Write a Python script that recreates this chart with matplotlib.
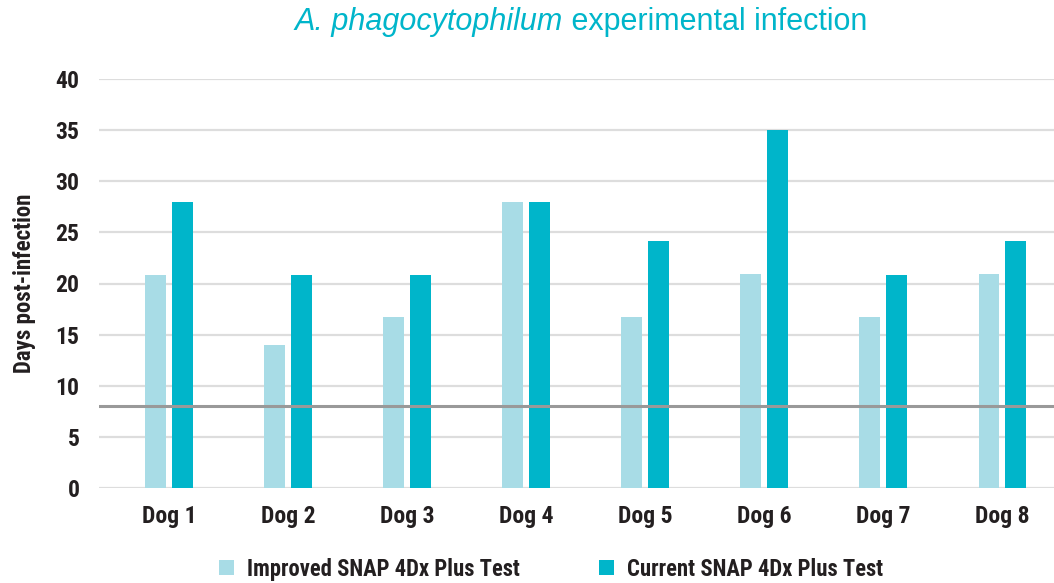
import matplotlib
matplotlib.use("Agg")
import matplotlib.pyplot as plt
from matplotlib import font_manager as fm
import numpy as np

dogs = ["Dog 1", "Dog 2", "Dog 3", "Dog 4", "Dog 5", "Dog 6", "Dog 7", "Dog 8"]
improved = [20.8, 14.0, 16.7, 28.0, 16.7, 20.9, 16.7, 20.9]
current = [28.0, 20.8, 20.8, 28.0, 24.2, 35.0, 20.8, 24.2]
threshold = 8
yticks = [0, 5, 10, 15, 20, 25, 30, 35, 40]
series_names = ["Improved SNAP 4Dx Plus Test", "Current SNAP 4Dx Plus Test"]

fonts = {}
for f in fm.fontManager.ttflist:
    fonts.setdefault(f.name, set()).add(f.weight)

def pick(cands, fallback="DejaVu Sans"):
    for c in cands:
        if c in fonts and any((w if isinstance(w, int) else 700 if w == "bold" else 400) >= 600 for w in fonts[c]):
            return c
    for c in cands:
        if c in fonts:
            return c
    return fallback

cond = pick(["Archivo Narrow", "Roboto Condensed", "PT Sans Narrow",
             "Liberation Sans Narrow", "Open Sans Condensed"])
reg = pick(["Liberation Sans", "Arimo"])

light = "#A8DCE6"
teal = "#00B5CA"
dark = "#231F20"

fig = plt.figure(figsize=(10.54, 5.83), dpi=100)
ax = fig.add_axes([99/1054, 1-488/583, 1-99/1054, (488-79)/583])

x = np.arange(len(dogs))
w = 0.176
off = 0.113
ax.bar(x - off, improved, width=w, color=light, zorder=2, label=series_names[0])
ax.bar(x + off, current, width=w, color=teal, zorder=2, label=series_names[1])
ax.axhline(threshold, color="#999999", lw=2.2, zorder=3)

ax.set_ylim(0, 40)
ax.set_xlim(-0.588, 7.433)
ax.set_yticks(yticks)
ax.yaxis.grid(True, color="#DDDDDD", lw=1.6, zorder=0)
ax.set_axisbelow(True)
for s in ax.spines.values():
    s.set_visible(False)
ax.tick_params(axis="both", length=0)
ax.tick_params(axis="y", pad=14)
ax.tick_params(axis="x", pad=12)
ax.set_xticks(x)
ax.set_xticklabels(dogs)
for lab in ax.get_xticklabels() + ax.get_yticklabels():
    lab.set_fontfamily(cond)
    lab.set_fontweight("bold")
    lab.set_fontsize(17)
    lab.set_color(dark)
ax.set_ylabel("Days post-infection", fontfamily=cond, fontweight="bold",
              fontsize=16.5, color=dark, labelpad=14)

leg = fig.legend(loc="center", bbox_to_anchor=(0.5228, 0.024), ncol=2,
                 frameon=False, handlelength=0.66, handleheight=0.66,
                 handletextpad=0.58, columnspacing=3.5,
                 borderpad=0, borderaxespad=0,
                 prop={"family": cond, "weight": "bold", "size": 16.3})
for t in leg.get_texts():
    t.set_color(dark)

# Title: italic part + regular part
fig.canvas.draw()
r = fig.canvas.get_renderer()
t1 = fig.text(0, 0, "A. phagocytophilum", fontfamily=reg, style="italic",
              fontsize=22, color=teal, va="baseline")
t2 = fig.text(0, 0, " experimental infection", fontfamily=reg,
              fontsize=22, color=teal, va="baseline")
w1 = t1.get_window_extent(r).width
w2 = t2.get_window_extent(r).width
total = w1 + w2
cx = 581
y_title = 1 - 30/583
x0 = cx - total/2
t1.set_position((x0/1054, y_title))
t2.set_position(((x0 + w1)/1054, y_title))

fig.savefig("out.png", dpi=100)
